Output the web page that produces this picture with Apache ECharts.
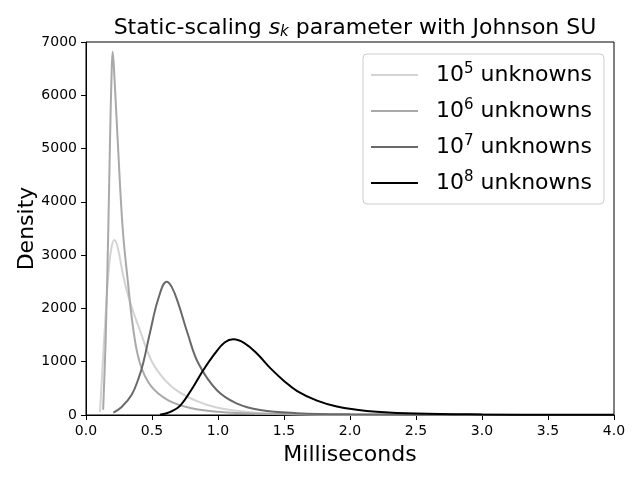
<!DOCTYPE html>
<html>

<head lang="en">
  <meta charset="UTF-8">
  <title>Johnson SU densities</title>
  <script src="https://cdn.jsdelivr.net/npm/echarts@6/dist/echarts.min.js"></script>
  <style>
  html, body {
    margin: 0;
    padding: 0;
    background: #fff;
  }
  #main {
    width: 640px;
    height: 480px;
  }
  </style>
</head>

<body>
  <div id="main"></div>
</body>
<script>
// values: [milliseconds, density]
var names = ['10^5 unknowns', '10^6 unknowns', '10^7 unknowns', '10^8 unknowns'];
var colors = ['#d3d3d3', '#a9a9a9', '#696969', '#000000'];

var curve5 = [
  [0.106, 60], [0.125, 880], [0.144, 1690], [0.169, 2627], [0.19, 3100],
  [0.214, 3284], [0.24, 3150], [0.283, 2600], [0.33, 2150], [0.41, 1580],
  [0.5, 1000], [0.6, 650], [0.7, 440], [0.85, 250], [0.99, 140],
  [1.24, 50], [1.5, 20], [2.0, 6], [3.0, 2], [4.0, 1]
];
var curve6 = [
  [0.13, 100], [0.15, 1500], [0.169, 3500], [0.182, 5160], [0.195, 6500],
  [0.202, 6817], [0.212, 6500], [0.24, 5160], [0.278, 3500], [0.316, 2533],
  [0.359, 1595], [0.409, 970], [0.49, 550], [0.62, 281], [0.8, 125],
  [1.0, 60], [1.3, 25], [2.0, 8], [3.0, 3], [4.0, 1]
];
var curve7 = [
  [0.207, 44], [0.27, 150], [0.346, 380], [0.40, 700], [0.434, 980],
  [0.485, 1550], [0.55, 2200], [0.611, 2500], [0.65, 2400], [0.699, 2096],
  [0.77, 1530], [0.851, 970], [0.99, 469], [1.14, 219], [1.32, 94],
  [1.6, 35], [2.0, 12], [3.0, 3], [4.0, 1]
];
var curve8 = [
  [0.56, 5], [0.64, 60], [0.712, 170], [0.813, 531], [0.889, 844],
  [0.977, 1157], [1.05, 1360], [1.116, 1420], [1.2, 1350], [1.3, 1140],
  [1.4, 870], [1.5, 640], [1.6, 450], [1.75, 270], [1.9, 160],
  [2.05, 100], [2.2, 63], [2.5, 28], [3.0, 10], [3.5, 5], [4.0, 3]
];
var curves = [curve5, curve6, curve7, curve8];

var font = 'DejaVu Sans';

var myChart = echarts.init(document.getElementById('main'));

var series = [];
for (var i = 0; i < curves.length; i++) {
  series.push({
    name: names[i],
    type: 'line',
    data: curves[i],
    smooth: 0.4,
    symbol: 'none',
    lineStyle: {
      color: colors[i],
      width: 2
    },
    itemStyle: {
      color: colors[i]
    }
  });
}

var option = {
  animation: false,
  backgroundColor: '#fff',
  title: {
    text: 'Static-scaling {i|s}{sub|k} parameter with Johnson SU',
    left: 350,
    top: 12,
    textAlign: 'center',
    textStyle: {
      fontFamily: font,
      fontSize: 22,
      fontWeight: 'normal',
      color: '#000',
      rich: {
        i: {
          fontFamily: font,
          fontSize: 22,
          fontStyle: 'italic',
          color: '#000'
        },
        sub: {
          fontFamily: font,
          fontSize: 15,
          fontStyle: 'italic',
          color: '#000',
          verticalAlign: 'bottom',
          padding: [8, 0, 0, 0]
        }
      }
    }
  },
  legend: {
    orient: 'vertical',
    left: 363,
    top: 54,
    data: names,
    icon: 'rect',
    itemWidth: 47,
    itemHeight: 2,
    itemGap: 10,
    padding: [8, 12, 8, 8],
    backgroundColor: '#fff',
    borderColor: '#cccccc',
    borderWidth: 1,
    borderRadius: 4,
    formatter: function(name) {
      var m = name.match(/^10\^(\d) (.*)$/);
      return '10{sup|' + m[1] + '} ' + m[2];
    },
    textStyle: {
      fontFamily: font,
      fontSize: 22,
      color: '#000',
      lineHeight: 26,
      padding: [0, 0, 0, 13],
      rich: {
        sup: {
          fontFamily: font,
          fontSize: 15,
          color: '#000',
          verticalAlign: 'top',
          padding: [0, 0, 10, 0]
        }
      }
    }
  },
  grid: {
    left: 86,
    right: 26,
    top: 42,
    bottom: 65,
    containLabel: false,
    outerBoundsMode: 'none',
    show: true,
    borderColor: '#000',
    borderWidth: 1,
    backgroundColor: 'transparent'
  },
  xAxis: {
    type: 'value',
    min: 0,
    max: 4,
    interval: 0.5,
    name: 'Milliseconds',
    nameLocation: 'middle',
    nameGap: 29,
    nameMoveOverlap: false,
    nameTextStyle: {
      fontFamily: font,
      fontSize: 22,
      color: '#000'
    },
    axisLine: {
      lineStyle: { color: '#000', width: 1 }
    },
    axisTick: {
      inside: false,
      length: 5,
      lineStyle: { color: '#000' }
    },
    axisLabel: {
      margin: 9,
      fontFamily: font,
      fontSize: 14,
      color: '#000',
      formatter: function(v) { return v.toFixed(1); }
    },
    splitLine: { show: false }
  },
  yAxis: {
    type: 'value',
    min: 0,
    max: 7000,
    interval: 1000,
    name: 'Density',
    nameLocation: 'middle',
    nameGap: 48,
    nameMoveOverlap: false,
    nameTextStyle: {
      fontFamily: font,
      fontSize: 22,
      color: '#000'
    },
    axisLine: {
      show: true,
      lineStyle: { color: '#000', width: 1 }
    },
    axisTick: {
      show: true,
      inside: false,
      length: 5,
      lineStyle: { color: '#000' }
    },
    axisLabel: {
      margin: 9,
      fontFamily: font,
      fontSize: 14,
      color: '#000',
      formatter: function(v) { return String(v); }
    },
    splitLine: { show: false }
  },
  series: series
};

myChart.setOption(option);
</script>

</html>
